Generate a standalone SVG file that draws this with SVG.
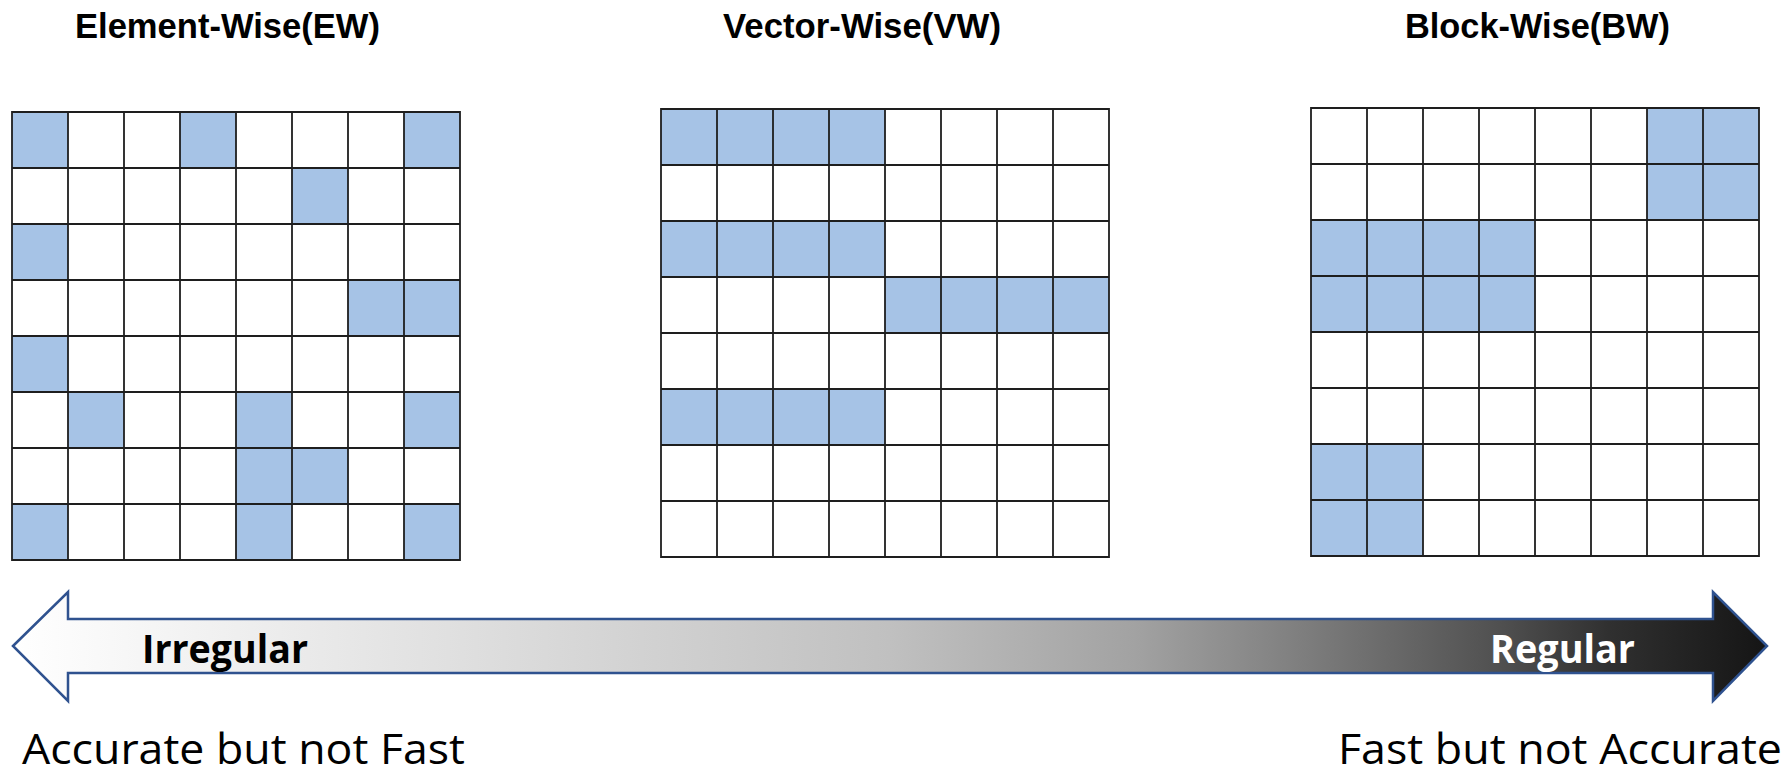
<svg xmlns="http://www.w3.org/2000/svg" width="1790" height="774" viewBox="0 0 1790 774">
<style>
.title{font-family:"Liberation Sans",Arial,sans-serif;font-weight:bold;font-size:34.5px;fill:#000}
.on{fill:#a6c3e6}
.bg{fill:#fff}
.ln{fill:none;stroke:#1e1e1e;stroke-width:1.8}
.lbl{font-family:"Open Sans","Noto Sans",sans-serif;font-weight:bold;font-size:40px}
.cap{font-family:"Open Sans","Noto Sans",sans-serif;font-size:42px;fill:#000}
</style>
<defs>
<linearGradient id="g" gradientUnits="userSpaceOnUse" x1="13" y1="0" x2="1767" y2="0">
<stop offset="0" stop-color="#ffffff"/>
<stop offset="0.28" stop-color="#dcdcdc"/>
<stop offset="0.5" stop-color="#c0c0c0"/>
<stop offset="0.64" stop-color="#a2a2a2"/>
<stop offset="0.73" stop-color="#808080"/>
<stop offset="0.85" stop-color="#4f4f4f"/>
<stop offset="0.91" stop-color="#303030"/>
<stop offset="1" stop-color="#151515"/>
</linearGradient>
<path id="grid" d="M0,0H448V448H0Z M56,0V448 M112,0V448 M168,0V448 M224,0V448 M280,0V448 M336,0V448 M392,0V448 M0,56H448 M0,112H448 M0,168H448 M0,224H448 M0,280H448 M0,336H448 M0,392H448"/>
</defs>
<rect width="1790" height="774" fill="#fff"/>

<g id="ew">
<text class="title" x="75" y="38" textLength="305" lengthAdjust="spacingAndGlyphs">Element-Wise(EW)</text>
<g transform="translate(12,112)">
<rect class="bg" width="448" height="448"/>
<rect class="on" x="0" y="0" width="56" height="56"/>
<rect class="on" x="168" y="0" width="56" height="56"/>
<rect class="on" x="392" y="0" width="56" height="56"/>
<rect class="on" x="280" y="56" width="56" height="56"/>
<rect class="on" x="0" y="112" width="56" height="56"/>
<rect class="on" x="336" y="168" width="112" height="56"/>
<rect class="on" x="0" y="224" width="56" height="56"/>
<rect class="on" x="56" y="280" width="56" height="56"/>
<rect class="on" x="224" y="280" width="56" height="56"/>
<rect class="on" x="392" y="280" width="56" height="56"/>
<rect class="on" x="224" y="336" width="112" height="56"/>
<rect class="on" x="0" y="392" width="56" height="56"/>
<rect class="on" x="224" y="392" width="56" height="56"/>
<rect class="on" x="392" y="392" width="56" height="56"/>
<use href="#grid" class="ln"/>
</g>
</g>

<g id="vw">
<text class="title" x="723" y="38" textLength="278" lengthAdjust="spacingAndGlyphs">Vector-Wise(VW)</text>
<g transform="translate(661,109)">
<rect class="bg" width="448" height="448"/>
<rect class="on" x="0" y="0" width="224" height="56"/>
<rect class="on" x="0" y="112" width="224" height="56"/>
<rect class="on" x="224" y="168" width="224" height="56"/>
<rect class="on" x="0" y="280" width="224" height="56"/>
<use href="#grid" class="ln"/>
</g>
</g>

<g id="bw">
<text class="title" x="1405" y="38" textLength="265" lengthAdjust="spacingAndGlyphs">Block-Wise(BW)</text>
<g transform="translate(1311,108)">
<rect class="bg" width="448" height="448"/>
<rect class="on" x="336" y="0" width="112" height="112"/>
<rect class="on" x="0" y="112" width="224" height="112"/>
<rect class="on" x="0" y="336" width="112" height="112"/>
<use href="#grid" class="ln"/>
</g>
</g>

<g id="connectors">
<path d="M13,646 L68,592 L68,619 L1713,619 L1713,592 L1767,646 L1713,701 L1713,673 L68,673 L68,701 Z" fill="url(#g)" stroke="#2f528f" stroke-width="2.5" stroke-linejoin="miter"/>
</g>

<g id="labels">
<text class="lbl" x="142" y="663" fill="#000" textLength="166" lengthAdjust="spacingAndGlyphs">Irregular</text>
<text class="lbl" x="1490" y="663" fill="#fff" textLength="145" lengthAdjust="spacingAndGlyphs">Regular</text>
<text class="cap" x="22" y="764" textLength="443" lengthAdjust="spacingAndGlyphs">Accurate but not Fast</text>
<text class="cap" x="1338" y="764" textLength="444" lengthAdjust="spacingAndGlyphs">Fast but not Accurate</text>
</g>
</svg>
